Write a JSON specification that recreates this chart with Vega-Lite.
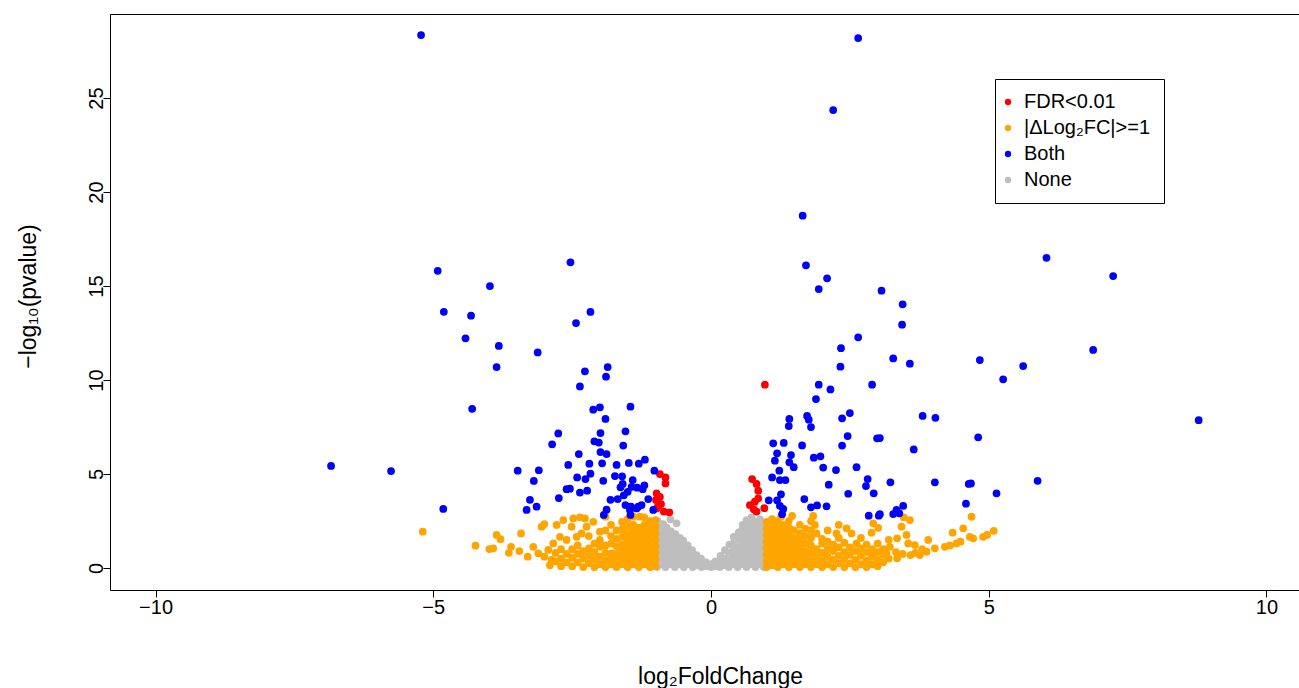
{
"$schema": "https://vega.github.io/schema/vega-lite/v6.json",
"autosize": {"type": "none"},
"padding": {"left": 110, "top": 14, "right": 0, "bottom": 98},
"width": 1202,
"height": 576,
"background": "white",
"config": {"view": {"stroke": "black", "strokeWidth": 1}, "font": "Liberation Sans"},
"encoding": {
  "x": {"field": "x", "type": "quantitative", "scale": {"domain": [-10.82, 10.82], "nice": false, "zero": false},
    "axis": {"values": [-10, -5, 0, 5, 10], "title": "log₂FoldChange", "domain": false, "grid": false, "tickSize": 7, "tickColor": "black", "tickWidth": 1, "labelFontSize": 20, "labelColor": "black", "labelPadding": 0, "labelFont": "Liberation Sans", "titleFont": "Liberation Sans", "titleFontSize": 23, "titleFontWeight": "normal", "titleColor": "black", "titleX": 610, "titleY": 86, "titleBaseline": "middle", "titleAlign": "center"}},
  "y": {"field": "y", "type": "quantitative", "scale": {"domain": [-1.17, 29.47], "nice": false, "zero": false},
    "axis": {"values": [0, 5, 10, 15, 20, 25], "title": "−log₁₀(pvalue)", "domain": false, "grid": false, "tickSize": 7, "tickColor": "black", "tickWidth": 1, "labelFontSize": 20, "labelColor": "black", "labelAngle": -90, "labelAlign": "center", "labelBaseline": "alphabetic", "labelPadding": 1, "labelFont": "Liberation Sans", "titleFont": "Liberation Sans", "titleFontSize": 23, "titleFontWeight": "normal", "titleColor": "black", "titleAngle": -90, "titleX": -82, "titleY": 282, "titleBaseline": "middle", "titleAlign": "center"}}
},
"layer": [
{
"data": {"values": [
{"x":-0.97,"y":0.05},{"x":-0.97,"y":0.4},{"x":-0.97,"y":0.75},{"x":-0.97,"y":1.1},{"x":-0.97,"y":1.45},{"x":-0.97,"y":1.8},{"x":-0.97,"y":2.15},{"x":-0.96,"y":2.5},
{"x":-0.9,"y":0.2},{"x":-0.9,"y":0.55},{"x":-0.9,"y":0.9},{"x":-0.9,"y":1.25},{"x":-0.9,"y":1.6},{"x":-0.9,"y":1.95},{"x":-0.86,"y":2.34},
{"x":-0.82,"y":0.05},{"x":-0.82,"y":0.4},{"x":-0.82,"y":0.75},{"x":-0.82,"y":1.1},{"x":-0.82,"y":1.45},{"x":-0.82,"y":1.8},{"x":-0.8,"y":2.15},
{"x":-0.73,"y":0.2},{"x":-0.73,"y":0.55},{"x":-0.73,"y":0.9},{"x":-0.73,"y":1.25},{"x":-0.73,"y":1.6},{"x":-0.72,"y":1.95},{"x":-0.73,"y":2.59},
{"x":-0.65,"y":0.05},{"x":-0.65,"y":0.4},{"x":-0.65,"y":0.75},{"x":-0.65,"y":1.1},{"x":-0.65,"y":1.45},{"x":-0.64,"y":1.8},{"x":-0.62,"y":2.38},
{"x":-0.57,"y":0.2},{"x":-0.57,"y":0.55},{"x":-0.57,"y":0.9},{"x":-0.57,"y":1.25},{"x":-0.56,"y":1.6},
{"x":-0.49,"y":0.05},{"x":-0.49,"y":0.4},{"x":-0.49,"y":0.75},{"x":-0.49,"y":1.1},{"x":-0.5,"y":1.45},
{"x":-0.41,"y":0.2},{"x":-0.41,"y":0.55},{"x":-0.41,"y":0.9},{"x":-0.42,"y":1.2},
{"x":-0.33,"y":0.05},{"x":-0.33,"y":0.4},{"x":-0.33,"y":0.75},{"x":-0.34,"y":0.95},
{"x":-0.25,"y":0.15},{"x":-0.25,"y":0.45},{"x":-0.26,"y":0.69},
{"x":-0.17,"y":0.05},{"x":-0.17,"y":0.3},{"x":-0.18,"y":0.5},
{"x":-0.09,"y":0.1},{"x":-0.09,"y":0.3},
{"x":0,"y":0.05},{"x":0.01,"y":0.2},
{"x":0.08,"y":0.1},{"x":0.08,"y":0.35},
{"x":0.16,"y":0.05},{"x":0.16,"y":0.35},{"x":0.17,"y":0.65},
{"x":0.24,"y":0.15},{"x":0.24,"y":0.5},{"x":0.25,"y":0.95},
{"x":0.32,"y":0.05},{"x":0.32,"y":0.4},{"x":0.32,"y":0.8},{"x":0.33,"y":1.25},
{"x":0.4,"y":0.2},{"x":0.4,"y":0.55},{"x":0.4,"y":0.9},{"x":0.4,"y":1.3},{"x":0.41,"y":1.65},
{"x":0.48,"y":0.05},{"x":0.48,"y":0.4},{"x":0.48,"y":0.75},{"x":0.48,"y":1.1},{"x":0.48,"y":1.5},{"x":0.5,"y":1.9},
{"x":0.56,"y":0.2},{"x":0.56,"y":0.55},{"x":0.56,"y":0.9},{"x":0.56,"y":1.25},{"x":0.56,"y":1.6},{"x":0.56,"y":2.0},{"x":0.57,"y":2.3},
{"x":0.64,"y":0.05},{"x":0.64,"y":0.4},{"x":0.64,"y":0.75},{"x":0.64,"y":1.1},{"x":0.64,"y":1.45},{"x":0.64,"y":1.8},{"x":0.64,"y":2.15},{"x":0.64,"y":2.55},
{"x":0.72,"y":0.2},{"x":0.72,"y":0.55},{"x":0.72,"y":0.9},{"x":0.72,"y":1.25},{"x":0.72,"y":1.6},{"x":0.72,"y":1.95},{"x":0.72,"y":2.3},{"x":0.73,"y":2.69},
{"x":0.8,"y":0.05},{"x":0.8,"y":0.4},{"x":0.8,"y":0.75},{"x":0.8,"y":1.1},{"x":0.8,"y":1.45},{"x":0.8,"y":1.8},{"x":0.8,"y":2.15},{"x":0.8,"y":2.45},
{"x":0.88,"y":0.2},{"x":0.88,"y":0.55},{"x":0.88,"y":0.9},{"x":0.88,"y":1.25},{"x":0.88,"y":1.6},{"x":0.88,"y":1.95},{"x":0.88,"y":2.3},{"x":0.88,"y":2.59},
{"x":0.95,"y":0.05},{"x":0.95,"y":0.4},{"x":0.95,"y":0.75},{"x":0.95,"y":1.1},{"x":0.95,"y":1.45},{"x":0.95,"y":1.8},{"x":0.95,"y":2.15}
]},
"mark": {"type": "circle", "size": 60, "opacity": 1},
"encoding": {"color": {"datum": "None", "type": "nominal",
  "scale": {"domain": ["FDR<0.01", "|ΔLog₂FC|>=1", "Both", "None"], "range": ["#FF0000", "#FFA500", "#0000FF", "#BEBEBE"]},
  "legend": {"orient": "none", "legendX": 885, "legendY": 65, "title": null, "strokeColor": "black", "fillColor": "white", "padding": 13, "cornerRadius": 0, "labelFontSize": 20, "labelFont": "Liberation Sans", "labelColor": "black", "symbolType": "circle", "symbolSize": 40, "symbolStrokeWidth": 0, "rowPadding": 6, "labelOffset": 6, "symbolOffset": -10}}}
},
{
"data": {"values": [
{"x":1.0,"y":0.05},{"x":1.0,"y":0.35},{"x":1.0,"y":0.7},{"x":1.0,"y":1.05},{"x":1.0,"y":1.4},{"x":1.0,"y":1.75},{"x":1.0,"y":2.1},{"x":1.0,"y":2.46},
{"x":1.1,"y":0.15},{"x":1.1,"y":0.5},{"x":1.1,"y":0.85},{"x":1.1,"y":1.2},{"x":1.1,"y":1.55},{"x":1.1,"y":1.9},{"x":1.1,"y":2.25},{"x":1.1,"y":2.6},
{"x":1.2,"y":0.05},{"x":1.2,"y":0.4},{"x":1.2,"y":0.75},{"x":1.2,"y":1.1},{"x":1.2,"y":1.45},{"x":1.2,"y":1.8},{"x":1.2,"y":2.15},{"x":1.2,"y":2.5},
{"x":1.3,"y":0.2},{"x":1.3,"y":0.55},{"x":1.3,"y":0.9},{"x":1.3,"y":1.25},{"x":1.3,"y":1.6},{"x":1.3,"y":1.95},{"x":1.3,"y":2.3},{"x":1.26,"y":2.73},
{"x":1.4,"y":0.05},{"x":1.4,"y":0.4},{"x":1.4,"y":0.75},{"x":1.4,"y":1.1},{"x":1.4,"y":1.45},{"x":1.4,"y":1.8},{"x":1.4,"y":2.15},{"x":1.4,"y":2.5},
{"x":1.5,"y":0.2},{"x":1.5,"y":0.55},{"x":1.5,"y":0.9},{"x":1.5,"y":1.25},{"x":1.5,"y":1.6},{"x":1.49,"y":2.02},{"x":1.46,"y":2.77},
{"x":1.6,"y":0.05},{"x":1.6,"y":0.4},{"x":1.6,"y":0.75},{"x":1.6,"y":1.1},{"x":1.6,"y":1.45},{"x":1.6,"y":1.85},{"x":1.6,"y":2.3},
{"x":1.7,"y":0.2},{"x":1.7,"y":0.55},{"x":1.7,"y":0.9},{"x":1.7,"y":1.3},{"x":1.7,"y":1.7},{"x":1.7,"y":2.1},
{"x":1.8,"y":0.05},{"x":1.8,"y":0.4},{"x":1.8,"y":0.8},{"x":1.8,"y":1.2},{"x":1.8,"y":1.6},{"x":1.8,"y":2.0},{"x":1.8,"y":2.5},
{"x":1.9,"y":0.2},{"x":1.9,"y":0.6},{"x":1.9,"y":1.0},{"x":1.9,"y":1.84},{"x":1.87,"y":2.29},{"x":1.84,"y":2.77},
{"x":2.0,"y":0.05},{"x":2.0,"y":0.4},{"x":2.0,"y":0.8},{"x":2.0,"y":1.3},{"x":2.0,"y":1.55},
{"x":2.1,"y":0.2},{"x":2.1,"y":0.6},{"x":2.1,"y":1.0},{"x":2.1,"y":1.4},{"x":2.1,"y":2.0},
{"x":2.2,"y":0.05},{"x":2.2,"y":0.45},{"x":2.2,"y":0.9},{"x":2.2,"y":1.25},{"x":2.26,"y":1.84},
{"x":2.3,"y":0.25},{"x":2.3,"y":0.65},{"x":2.3,"y":1.1},{"x":2.3,"y":1.6},{"x":2.3,"y":2.3},
{"x":2.4,"y":0.05},{"x":2.4,"y":0.45},{"x":2.4,"y":0.85},{"x":2.4,"y":1.35},{"x":2.44,"y":2.11},
{"x":2.5,"y":0.25},{"x":2.5,"y":0.7},{"x":2.5,"y":1.1},{"x":2.53,"y":1.84},
{"x":2.6,"y":0.05},{"x":2.6,"y":0.45},{"x":2.6,"y":0.9},{"x":2.62,"y":1.31},
{"x":2.7,"y":0.2},{"x":2.7,"y":0.65},{"x":2.7,"y":1.05},{"x":2.7,"y":1.6},
{"x":2.8,"y":0.05},{"x":2.8,"y":0.4},{"x":2.8,"y":0.85},{"x":2.8,"y":1.25},
{"x":2.9,"y":0.2},{"x":2.9,"y":0.6},{"x":2.9,"y":1.0},{"x":2.89,"y":1.88},{"x":2.92,"y":2.38},
{"x":3.0,"y":0.1},{"x":3.0,"y":0.45},{"x":3.0,"y":0.85},{"x":3.0,"y":1.3},{"x":3.01,"y":2.14},
{"x":3.1,"y":0.3},{"x":3.1,"y":0.7},{"x":3.1,"y":1.0},
{"x":3.16,"y":0.78},{"x":3.2,"y":0.5},{"x":3.22,"y":1.13},{"x":3.2,"y":1.5},
{"x":3.35,"y":0.52},{"x":3.33,"y":0.85},{"x":3.35,"y":1.58},
{"x":3.45,"y":0.75},{"x":3.43,"y":2.2},{"x":3.47,"y":2.7},
{"x":3.55,"y":1.31},{"x":3.59,"y":0.69},{"x":3.52,"y":1.76},{"x":3.58,"y":2.55},
{"x":3.67,"y":1.22},{"x":3.68,"y":0.8},
{"x":3.76,"y":0.69},{"x":3.8,"y":1.0},
{"x":3.88,"y":0.87},{"x":3.91,"y":1.49},
{"x":4.03,"y":1.05},{"x":4.21,"y":1.13},{"x":4.3,"y":1.2},{"x":4.35,"y":1.88},{"x":4.42,"y":1.31},{"x":4.49,"y":1.4},{"x":4.54,"y":2.11},
{"x":4.66,"y":1.66},{"x":4.69,"y":2.73},{"x":4.72,"y":1.58},{"x":4.9,"y":1.66},{"x":4.97,"y":1.76},{"x":5.09,"y":1.98},
{"x":-1.0,"y":0.1},{"x":-1.0,"y":0.45},{"x":-1.0,"y":0.8},{"x":-1.0,"y":1.15},{"x":-1.0,"y":1.5},{"x":-1.0,"y":1.85},{"x":-1.0,"y":2.2},{"x":-1.0,"y":2.55},
{"x":-1.1,"y":0.05},{"x":-1.1,"y":0.4},{"x":-1.1,"y":0.75},{"x":-1.1,"y":1.1},{"x":-1.1,"y":1.45},{"x":-1.1,"y":1.8},{"x":-1.1,"y":2.15},{"x":-1.1,"y":2.5},
{"x":-1.2,"y":0.2},{"x":-1.2,"y":0.55},{"x":-1.2,"y":0.9},{"x":-1.2,"y":1.25},{"x":-1.2,"y":1.6},{"x":-1.2,"y":1.95},{"x":-1.2,"y":2.3},{"x":-1.2,"y":2.7},
{"x":-1.3,"y":0.05},{"x":-1.3,"y":0.4},{"x":-1.3,"y":0.75},{"x":-1.3,"y":1.1},{"x":-1.3,"y":1.45},{"x":-1.3,"y":1.8},{"x":-1.3,"y":2.15},{"x":-1.28,"y":2.73},
{"x":-1.4,"y":0.2},{"x":-1.4,"y":0.55},{"x":-1.4,"y":0.9},{"x":-1.4,"y":1.25},{"x":-1.4,"y":1.6},{"x":-1.4,"y":1.95},{"x":-1.4,"y":2.3},{"x":-1.4,"y":2.73},
{"x":-1.5,"y":0.05},{"x":-1.5,"y":0.4},{"x":-1.5,"y":0.75},{"x":-1.5,"y":1.1},{"x":-1.5,"y":1.45},{"x":-1.5,"y":1.8},{"x":-1.5,"y":2.2},{"x":-1.5,"y":2.6},
{"x":-1.6,"y":0.2},{"x":-1.6,"y":0.55},{"x":-1.6,"y":0.9},{"x":-1.6,"y":1.25},{"x":-1.6,"y":1.65},{"x":-1.6,"y":2.05},{"x":-1.6,"y":2.45},
{"x":-1.7,"y":0.05},{"x":-1.7,"y":0.4},{"x":-1.7,"y":0.75},{"x":-1.7,"y":1.15},{"x":-1.7,"y":1.55},{"x":-1.7,"y":2.0},
{"x":-1.8,"y":0.2},{"x":-1.8,"y":0.55},{"x":-1.79,"y":0.78},{"x":-1.8,"y":1.3},{"x":-1.8,"y":1.7},{"x":-1.8,"y":2.3},
{"x":-1.9,"y":0.05},{"x":-1.9,"y":0.4},{"x":-1.9,"y":0.8},{"x":-1.9,"y":1.2},{"x":-1.9,"y":2.0},{"x":-1.9,"y":2.73},
{"x":-2.0,"y":0.2},{"x":-2.0,"y":0.6},{"x":-2.0,"y":1.13},{"x":-2.0,"y":1.5},{"x":-2.0,"y":1.93},
{"x":-2.1,"y":0.05},{"x":-2.1,"y":0.45},{"x":-2.1,"y":0.85},{"x":-2.1,"y":1.3},{"x":-2.12,"y":2.46},
{"x":-2.2,"y":0.25},{"x":-2.2,"y":0.65},{"x":-2.2,"y":1.05},{"x":-2.2,"y":1.7},{"x":-2.24,"y":2.2},
{"x":-2.3,"y":0.05},{"x":-2.3,"y":0.5},{"x":-2.3,"y":0.9},{"x":-2.33,"y":1.84},{"x":-2.27,"y":2.64},
{"x":-2.4,"y":0.3},{"x":-2.4,"y":0.75},{"x":-2.4,"y":1.2},{"x":-2.42,"y":1.66},{"x":-2.36,"y":2.7},
{"x":-2.5,"y":0.1},{"x":-2.5,"y":0.55},{"x":-2.5,"y":1.0},{"x":-2.51,"y":2.2},{"x":-2.48,"y":2.64},
{"x":-2.6,"y":0.3},{"x":-2.6,"y":0.75},{"x":-2.6,"y":1.49},
{"x":-2.7,"y":0.1},{"x":-2.7,"y":0.5},{"x":-2.7,"y":1.0},{"x":-2.72,"y":1.66},{"x":-2.66,"y":2.55},
{"x":-2.8,"y":0.35},{"x":-2.8,"y":0.8},{"x":-2.84,"y":1.31},{"x":-2.78,"y":2.29},
{"x":-2.9,"y":0.15},{"x":-2.87,"y":0.43},{"x":-2.93,"y":0.96},
{"x":-3.0,"y":0.6},{"x":-3.0,"y":2.34},{"x":-3.05,"y":2.2},
{"x":-3.11,"y":0.78},{"x":-3.2,"y":1.13},{"x":-3.3,"y":0.6},{"x":-3.42,"y":1.84},{"x":-3.45,"y":0.9},
{"x":-3.6,"y":1.13},{"x":-3.64,"y":0.81},{"x":-3.79,"y":1.53},{"x":-3.86,"y":1.76},{"x":-3.92,"y":1.05},{"x":-3.99,"y":1.01},{"x":-4.24,"y":1.19},{"x":-5.19,"y":1.93}
]},
"mark": {"type": "circle", "size": 60, "opacity": 1},
"encoding": {"color": {"datum": "|ΔLog₂FC|>=1", "type": "nominal"}}
},
{
"data": {"values": [
{"x":-0.92,"y":5.0},{"x":-0.82,"y":4.82},{"x":-0.82,"y":4.5},{"x":-0.98,"y":3.97},{"x":-0.92,"y":3.79},{"x":-0.99,"y":3.62},{"x":-0.9,"y":3.4},{"x":-0.98,"y":3.17},{"x":-0.85,"y":3.0},{"x":-0.75,"y":2.96},{"x":-0.95,"y":3.3},
{"x":0.97,"y":9.75},{"x":0.74,"y":4.73},{"x":0.82,"y":4.47},{"x":0.85,"y":4.11},{"x":0.85,"y":3.71},{"x":0.79,"y":3.53},{"x":0.7,"y":3.35},{"x":0.77,"y":3.12},{"x":0.96,"y":3.18},{"x":0.82,"y":3.0}
]},
"mark": {"type": "circle", "size": 60, "opacity": 1},
"encoding": {"color": {"datum": "FDR<0.01", "type": "nominal"}}
},
{
"data": {"values": [
{"x":-5.22,"y":28.35},{"x":-6.84,"y":5.43},{"x":-5.76,"y":5.16},{"x":-4.82,"y":3.14},{"x":-4.92,"y":15.81},{"x":-2.53,"y":16.26},{"x":-3.98,"y":15.0},{"x":-4.81,"y":13.63},{"x":-4.32,"y":13.42},{"x":-2.17,"y":13.62},
{"x":-2.43,"y":13.03},{"x":-4.42,"y":12.22},{"x":-3.82,"y":11.81},{"x":-3.12,"y":11.47},{"x":-3.86,"y":10.69},{"x":-2.27,"y":10.46},{"x":-1.86,"y":10.69},{"x":-1.89,"y":10.18},{"x":-2.36,"y":9.66},{"x":-4.3,"y":8.47},
{"x":-2.12,"y":8.42},{"x":-2.0,"y":8.55},{"x":-1.45,"y":8.58},{"x":-1.9,"y":7.93},{"x":-2.75,"y":7.16},{"x":-2.86,"y":6.58},{"x":-1.99,"y":7.18},{"x":-1.54,"y":7.27},{"x":-2.1,"y":6.74},{"x":-2.02,"y":6.67},
{"x":-1.58,"y":6.51},{"x":-2.38,"y":6.06},{"x":-1.99,"y":6.17},{"x":-1.88,"y":6.06},{"x":-3.48,"y":5.18},{"x":-3.1,"y":5.2},{"x":-2.57,"y":5.48},{"x":-2.19,"y":5.55},{"x":-1.96,"y":5.57},{"x":-1.7,"y":5.48},
{"x":-1.48,"y":5.59},{"x":-1.3,"y":5.55},{"x":-1.19,"y":5.76},{"x":-1.02,"y":5.18},{"x":-3.19,"y":4.63},{"x":-2.41,"y":4.82},{"x":-2.26,"y":4.73},{"x":-2.17,"y":5.02},{"x":-1.94,"y":4.64},{"x":-1.73,"y":4.89},
{"x":-1.6,"y":4.88},{"x":-1.41,"y":4.68},{"x":-1.59,"y":4.47},{"x":-1.43,"y":4.32},{"x":-1.33,"y":4.27},{"x":-1.23,"y":4.19},{"x":-1.13,"y":3.67},{"x":-2.6,"y":4.19},{"x":-2.54,"y":4.22},{"x":-2.36,"y":4.01},
{"x":-2.23,"y":4.11},{"x":-2.74,"y":3.72},{"x":-3.26,"y":3.63},{"x":-3.32,"y":3.09},{"x":-3.14,"y":3.26},{"x":-1.81,"y":3.63},{"x":-1.68,"y":3.67},{"x":-1.57,"y":3.87},{"x":-1.54,"y":3.35},{"x":-1.44,"y":3.26},
{"x":-1.34,"y":3.17},{"x":-1.25,"y":3.35},{"x":-1.88,"y":3.1},{"x":-1.93,"y":2.82},{"x":-1.45,"y":2.82},{"x":-1.63,"y":4.29},{"x":-1.5,"y":4.05},{"x":-1.2,"y":4.4},{"x":-1.04,"y":3.09},{"x":-1.31,"y":3.26},{"x":-1.46,"y":3.09},
{"x":2.65,"y":28.19},{"x":2.2,"y":24.36},{"x":1.65,"y":18.74},{"x":1.71,"y":16.1},{"x":2.09,"y":15.41},{"x":1.94,"y":14.84},{"x":3.07,"y":14.75},{"x":3.45,"y":14.03},{"x":3.44,"y":12.94},{"x":2.65,"y":12.27},
{"x":2.34,"y":11.69},{"x":3.28,"y":11.15},{"x":3.58,"y":10.87},{"x":4.84,"y":11.06},{"x":2.33,"y":10.71},{"x":1.94,"y":9.75},{"x":2.15,"y":9.5},{"x":2.9,"y":9.75},{"x":1.89,"y":8.99},{"x":6.04,"y":16.5},
{"x":7.24,"y":15.53},{"x":6.88,"y":11.6},{"x":5.62,"y":10.74},{"x":5.26,"y":10.04},{"x":8.78,"y":7.86},{"x":5.88,"y":4.64},{"x":5.14,"y":3.97},{"x":3.81,"y":8.09},{"x":4.04,"y":7.99},{"x":3.04,"y":6.91},
{"x":4.81,"y":6.95},{"x":3.65,"y":6.31},{"x":3.23,"y":4.56},{"x":4.03,"y":4.56},{"x":4.64,"y":4.47},{"x":4.68,"y":4.5},{"x":4.59,"y":3.42},{"x":3.46,"y":3.3},{"x":3.34,"y":3.09},{"x":3.28,"y":2.87},
{"x":3.39,"y":2.91},{"x":3.04,"y":2.86},{"x":1.41,"y":7.93},{"x":1.4,"y":7.55},{"x":1.73,"y":8.09},{"x":1.76,"y":7.89},{"x":1.8,"y":7.5},{"x":2.36,"y":7.96},{"x":2.5,"y":8.24},{"x":2.46,"y":7.02},
{"x":2.36,"y":6.51},{"x":2.99,"y":6.9},{"x":1.12,"y":6.63},{"x":1.31,"y":6.65},{"x":1.64,"y":6.52},{"x":1.19,"y":6.1},{"x":1.44,"y":6.01},{"x":1.15,"y":5.71},{"x":1.41,"y":5.62},{"x":1.49,"y":5.36},
{"x":1.85,"y":5.87},{"x":1.97,"y":5.94},{"x":2.02,"y":5.34},{"x":2.25,"y":5.21},{"x":2.62,"y":5.36},{"x":1.23,"y":5.18},{"x":1.1,"y":4.82},{"x":1.24,"y":4.68},{"x":1.34,"y":4.68},{"x":2.82,"y":4.73},
{"x":2.79,"y":4.36},{"x":2.12,"y":4.43},{"x":2.47,"y":3.95},{"x":2.93,"y":3.97},{"x":1.26,"y":3.92},{"x":1.04,"y":3.6},{"x":1.68,"y":3.67},{"x":1.19,"y":3.6},{"x":1.24,"y":3.31},{"x":1.3,"y":3.14},
{"x":1.28,"y":2.86},{"x":1.8,"y":3.23},{"x":1.91,"y":3.33},{"x":2.08,"y":3.28},{"x":2.84,"y":2.78},{"x":3.02,"y":2.78}
]},
"mark": {"type": "circle", "size": 60, "opacity": 1},
"encoding": {"color": {"datum": "Both", "type": "nominal"}}
}
]
}
